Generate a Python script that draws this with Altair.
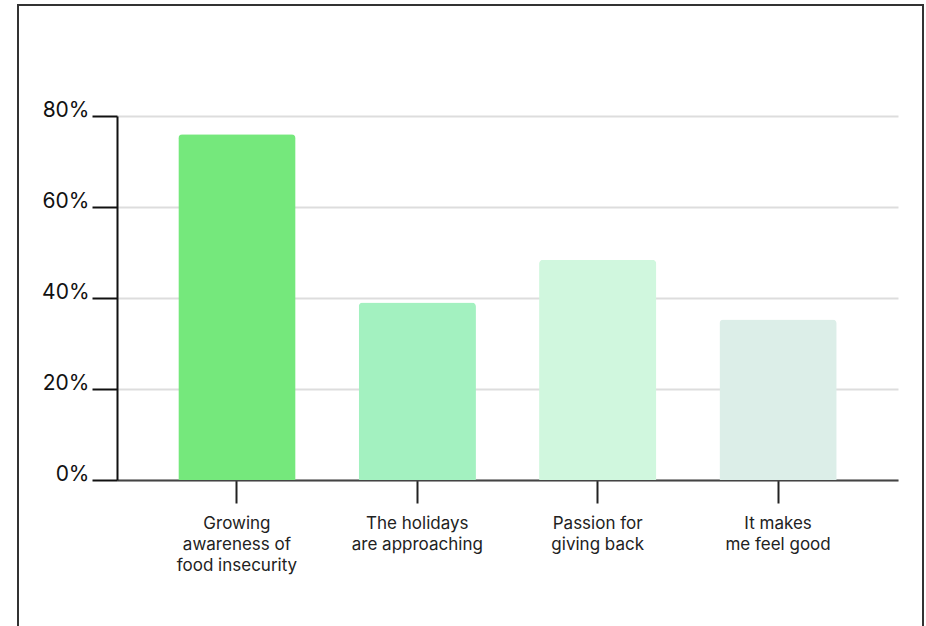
import altair as alt
import pandas as pd

categories = [
    "Growing\nawareness of\nfood insecurity",
    "The holidays\nare approaching",
    "Passion for\ngiving back",
    "It makes\nme feel good",
]
values = [76, 39, 48.4, 35.3]
colors = ["#75E87C", "#A3F1C0", "#D0F7DE", "#DCEEE8"]
y_ticks = [0, 20, 40, 60, 80]

df = pd.DataFrame({"reason": categories, "pct": values})

FONT = "Inter"

bars = alt.Chart(df).mark_bar(
    cornerRadiusTopLeft=4, cornerRadiusTopRight=4
).encode(
    x=alt.X(
        "reason:N",
        sort=categories,
        scale=alt.Scale(paddingInner=0.35, paddingOuter=0.34),
        axis=alt.Axis(
            title=None,
            labelAngle=0,
            labelExpr="split(datum.value, '\\n')",
            labelFont=FONT,
            labelFontSize=17,
            labelLineHeight=21,
            labelColor="#222222",
            labelPadding=12,
            labelBaseline="top",
            tickSize=23,
            tickWidth=2,
            tickColor="#222222",
            domainColor="#444444",
            domainWidth=2,
            grid=False,
        ),
    ),
    y=alt.Y(
        "pct:Q",
        scale=alt.Scale(domain=[0, 80], nice=False),
        axis=alt.Axis(
            title=None,
            values=y_ticks,
            labelExpr="datum.value + '%'",
            labelFont=FONT,
            labelFontSize=21,
            labelColor="#111111",
            labelPadding=3,
            labelBaseline="alphabetic",
            labelAlign="right",
            tickSize=25,
            tickWidth=2,
            tickColor="#111111",
            domainColor="#111111",
            domainWidth=2,
            grid=True,
            gridColor="#DDDDDD",
            gridWidth=2,
        ),
    ),
    color=alt.Color(
        "reason:N",
        sort=categories,
        scale=alt.Scale(domain=categories, range=colors),
        legend=None,
    ),
)

border = alt.Chart(alt.Data(values=[{}])).mark_rect(
    filled=False, stroke="#333333", strokeWidth=2
).encode(
    x=alt.value(-99),
    x2=alt.value(806),
    y=alt.value(-111),
    y2=alt.value(600),
)

chart = alt.layer(bars, border).properties(
    width=781,
    height=364,
    autosize=alt.AutoSizeParams(type="none"),
    padding={"left": 117, "top": 116, "right": 28, "bottom": 146},
    background="#FFFFFF",
).configure_view(stroke=None)

chart.save("out.html", embed_options={"renderer": "svg", "actions": False})
